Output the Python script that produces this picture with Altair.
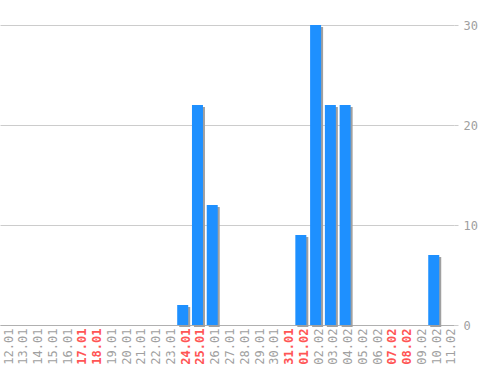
import altair as alt
import pandas as pd

dates = ["12.01", "13.01", "14.01", "15.01", "16.01", "17.01", "18.01", "19.01",
         "20.01", "21.01", "22.01", "23.01", "24.01", "25.01", "26.01", "27.01",
         "28.01", "29.01", "30.01", "31.01", "01.02", "02.02", "03.02", "04.02",
         "05.02", "06.02", "07.02", "08.02", "09.02", "10.02", "11.02"]
values = [0, 0, 0, 0, 0, 0, 0, 0, 0, 0, 0, 0, 2, 22, 12, 0,
          0, 0, 0, 0, 9, 30, 22, 22, 0, 0, 0, 0, 0, 7, 0]
weekends = ["17.01", "18.01", "24.01", "25.01", "31.01", "01.02", "07.02", "08.02"]
y_ticks = [0, 10, 20, 30]

df = pd.DataFrame({"date": dates, "value": values})

weekend_test = "indexof(" + str(weekends).replace("'", '"') + ", datum.value) >= 0"

x_enc = alt.X(
    "date:N", sort=dates, title=None,
    scale=alt.Scale(paddingInner=0.255, paddingOuter=0),
    axis=alt.Axis(
        labelAngle=270, labelFont="DejaVu Sans Mono", labelFontSize=12,
        labelColor=alt.ExprRef(f"{weekend_test} ? '#ff5555' : '#a0a0a0'"),
        labelFontWeight=alt.ExprRef(f"{weekend_test} ? 'bold' : 'normal'"),
        labelOffset=3, labelPadding=3, ticks=False,
        domain=True, domainColor="#b0b0b0", grid=False,
    ),
)
y_enc = alt.Y(
    "value:Q", title=None,
    scale=alt.Scale(domain=[0, 30], nice=False),
    axis=alt.Axis(
        orient="right", values=y_ticks, labelFont="DejaVu Sans Mono",
        labelFontSize=12, labelColor="#a0a0a0",
        gridColor="#cccccc", tickColor="#cccccc", tickSize=4,
        labelPadding=5, domain=False,
    ),
)

shadow = alt.Chart(df).mark_bar(color="#a0a0a0", xOffset=2, yOffset=2).encode(x=x_enc, y=y_enc)
bars = alt.Chart(df).mark_bar(color="#1e90ff").encode(x=x_enc, y=y_enc)

chart = alt.layer(shadow, bars).properties(
    width=454, height=300,
    autosize=alt.AutoSizeParams(type="none"),
    padding={"left": 0, "top": 25, "right": 44, "bottom": 45},
    background="white",
).configure_view(stroke="transparent")

chart.save("out.html", embed_options={"renderer": "svg", "actions": False})
